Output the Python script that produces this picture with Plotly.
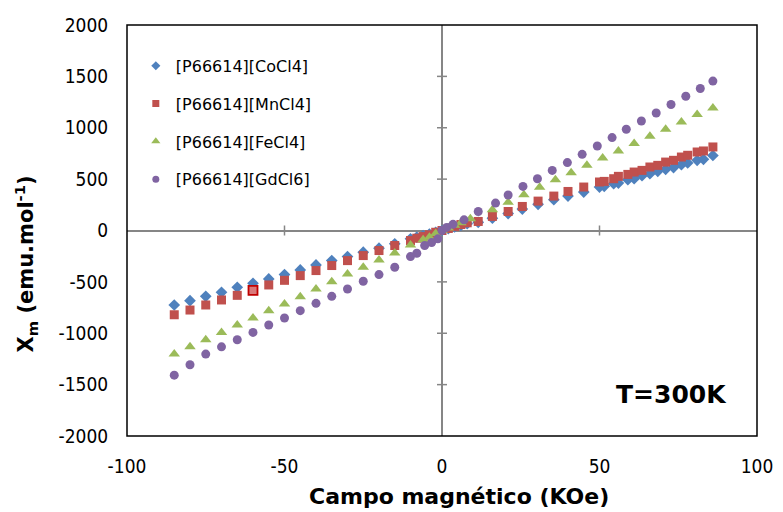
import plotly.graph_objects as go

# ---------------- data ----------------
co_x = [-85, -80, -75, -70, -65, -60, -55, -50, -45, -40, -35, -30, -25, -20, -15, -10,
        -8, -6, -4, -2, 0, 2, 4, 6, 8, 11.5, 16, 21, 25.5, 30.5, 35.5, 40, 45,
        50, 51.5, 54.5, 56, 59, 61, 63.5, 66, 68.5, 71, 73.5, 76, 78, 81, 83, 86]
co_y = [-725, -683, -641, -602, -553, -514, -471, -429, -384, -335, -293, -254, -211, -172, -130, -81,
        -65, -50, -34, -17, 0, 17, 34, 50, 66, 80, 120, 165, 209, 255, 300, 335, 374,
        423, 430, 455, 462, 495, 504, 534, 553, 576, 595, 612, 641, 657, 683, 693, 730]

mn_x = [-85, -80, -75, -70, -65, -60, -55, -50, -45, -40, -35, -30, -25, -20, -15, -10,
        -8, -6, -4, -2, 0, 2, 4, 6, 8, 11.5, 16, 21, 25.5, 30.5, 35.5, 40, 45,
        50, 51.5, 54.5, 56, 59, 61, 63.5, 66, 68.5, 71, 73.5, 76, 78, 81, 83, 86]
mn_y = [-820, -774, -725, -676, -631, -582, -530, -485, -439, -390, -341, -293, -244, -195, -146, -98,
        -75, -59, -42, -17, 0, 20, 40, 58, 75, 88, 137, 185, 234, 286, 335, 380, 423,
        472, 478, 504, 527, 546, 569, 585, 618, 634, 666, 683, 715, 732, 764, 774, 813]

fe_x = [-85, -80, -75, -70, -65, -60, -55, -50, -45, -40, -35, -30, -25, -20, -15, -10,
        -6, -4, -2, 0, 2, 4, 6, 9, 16, 21, 26, 31, 36, 41, 46, 51, 56, 61, 66, 71, 76, 81, 86]
fe_y = [-1203, -1132, -1063, -992, -920, -852, -780, -715, -644, -569, -498, -423, -358, -286, -218, -140,
        -91, -65, -30, 0, 25, 50, 75, 114, 202, 276, 348, 422, 495, 563, 634, 705, 774, 846, 917, 985,
        1057, 1129, 1193]

gd_x = [-85, -80, -75, -70, -65, -60, -55, -50, -45, -40, -35, -30, -25, -20, -15, -10,
        -8, -5.5, -3.3, -1.3, 0, 1.5, 3.5, 7, 11.5, 17, 21, 25.7, 30.3, 35, 39.8, 44.5, 49.3,
        54, 58.5, 63.3, 68, 72.7, 77.4, 82, 86]
gd_y = [-1408, -1307, -1203, -1132, -1063, -992, -920, -852, -780, -709, -641, -569, -494, -429, -358, -254,
        -221, -146, -118, -81, 0, 30, 60, 104, 185, 267, 345, 429, 504, 585, 661, 741, 822,
        904, 985, 1066, 1144, 1226, 1307, 1382, 1454]

series_names = ["[P66614][CoCl4]", "[P66614][MnCl4]", "[P66614][FeCl4]", "[P66614][GdCl6]"]
x_ticks = [-100, -50, 0, 50, 100]
y_ticks = [-2000, -1500, -1000, -500, 0, 500, 1000, 1500, 2000]

# ---------------- figure ----------------
TICK_FONT = "DejaVu Sans Condensed, Liberation Sans Narrow, DejaVu Sans, sans-serif"
BOLD_FONT = "DejaVu Sans, Verdana, sans-serif"
LEG_FONT = "DejaVu Sans, Verdana, sans-serif"

W, H = 783, 512
ML, MR, MT, MB = 127, 26, 25, 76
PW, PH = W - ML - MR, H - MT - MB


def px_x(px):
    return (px - ML) / PW


def px_y(py):
    return (H - MB - py) / PH


fig = go.Figure()

# highlighted (selected) point in the MnCl4 series at x = -60
mn_line_col = ["#C00000" if x == -60 else "rgba(0,0,0,0)" for x in mn_x]
mn_fill_col = ["#D9797A" if x == -60 else "#C0504D" for x in mn_x]

specs = [
    (co_x, co_y, "diamond", "#4F81BD", 9, None, None, 7),
    (mn_x, mn_y, "square", mn_fill_col, 9, mn_line_col, 1.8, 7),
    (fe_x, fe_y, "triangle-up", "#9BBB59", 10, None, None, 8),
    (gd_x, gd_y, "circle", "#8064A2", 9, None, None, 7),
]
for i, (xs, ys, sym, col, size, lcol, lw, lsize) in enumerate(specs):
    marker = dict(symbol=sym, color=col, size=size)
    if lcol is not None:
        marker["line"] = dict(color=lcol, width=lw)
    else:
        marker["line"] = dict(width=0)
    fig.add_trace(go.Scatter(
        x=xs, y=ys, mode="markers", name=series_names[i], marker=marker,
        showlegend=False, legendgroup=str(i),
    ))
    # legend entry with the small legend symbol
    legcol = col if isinstance(col, str) else "#C0504D"
    fig.add_trace(go.Scatter(
        x=[None], y=[None], mode="markers", name=series_names[i],
        marker=dict(symbol=sym, color=legcol, size=lsize, line=dict(width=0)),
        showlegend=True, legendgroup=str(i),
    ))

shapes = []
# frame
shapes.append(dict(type="rect", xref="paper", yref="paper", x0=0, x1=1, y0=0, y1=1,
                   line=dict(color="#000000", width=1.5), layer="above"))
# tick marks crossing the zero lines
for t in x_ticks:
    if t in (-100, 0, 100):
        continue
    shapes.append(dict(type="line", xref="x", yref="y", ysizemode="pixel", yanchor=0,
                       x0=t, x1=t, y0=-5, y1=5, line=dict(color="#868686", width=1.5)))
for t in y_ticks:
    if t in (-2000, 0, 2000):
        continue
    shapes.append(dict(type="line", xref="x", yref="y", xsizemode="pixel", xanchor=0,
                       y0=t, y1=t, x0=-5, x1=5, line=dict(color="#868686", width=1.5)))

fig.update_layout(
    width=W, height=H,
    margin=dict(l=ML, r=MR, t=MT, b=MB, autoexpand=False),
    paper_bgcolor="white", plot_bgcolor="white",
    showlegend=True,
    legend=dict(x=0.014, y=0.942, xanchor="left", yanchor="top",
                font=dict(family=LEG_FONT, size=16, color="#000000"),
                bgcolor="rgba(0,0,0,0)", tracegroupgap=14),
    shapes=shapes,
    annotations=[
        dict(text="<b>T=300K</b>", x=0.865, y=0.1, xref="paper", yref="paper",
             showarrow=False, xanchor="center", yanchor="middle",
             font=dict(family=BOLD_FONT, size=25, color="#000000")),
        dict(text="<b>X<sub>m</sub> (emu.mol<sup>-1</sup>)</b>", textangle=-90,
             x=px_x(26), y=0.42, xref="paper", yref="paper", showarrow=False,
             xanchor="center", yanchor="middle",
             font=dict(family=BOLD_FONT, size=21, color="#000000")),
        dict(text="<b>Campo magnético (KOe)</b>",
             x=px_x(459), y=px_y(496), xref="paper", yref="paper", showarrow=False,
             xanchor="center", yanchor="middle",
             font=dict(family=BOLD_FONT, size=22, color="#000000")),
    ],
)

fig.update_xaxes(
    range=[-100, 100], tickvals=x_ticks, ticktext=[str(v) for v in x_ticks],
    showgrid=False, showline=False, zeroline=True, zerolinecolor="#868686", zerolinewidth=1.5,
    ticks="outside", ticklen=13, tickcolor="rgba(0,0,0,0)", automargin=False,
    tickfont=dict(family=TICK_FONT, size=19, color="#000000"),
)
fig.update_yaxes(
    range=[-2000, 2000], tickvals=y_ticks, ticktext=[str(v) for v in y_ticks],
    showgrid=False, showline=False, zeroline=True, zerolinecolor="#868686", zerolinewidth=1.5,
    ticks="outside", ticklen=14, tickcolor="rgba(0,0,0,0)", automargin=False,
    tickfont=dict(family=TICK_FONT, size=19, color="#000000"),
)

fig.write_html("out.html", post_script="document.body.style.margin='0px';",
               config={"displayModeBar": False})
